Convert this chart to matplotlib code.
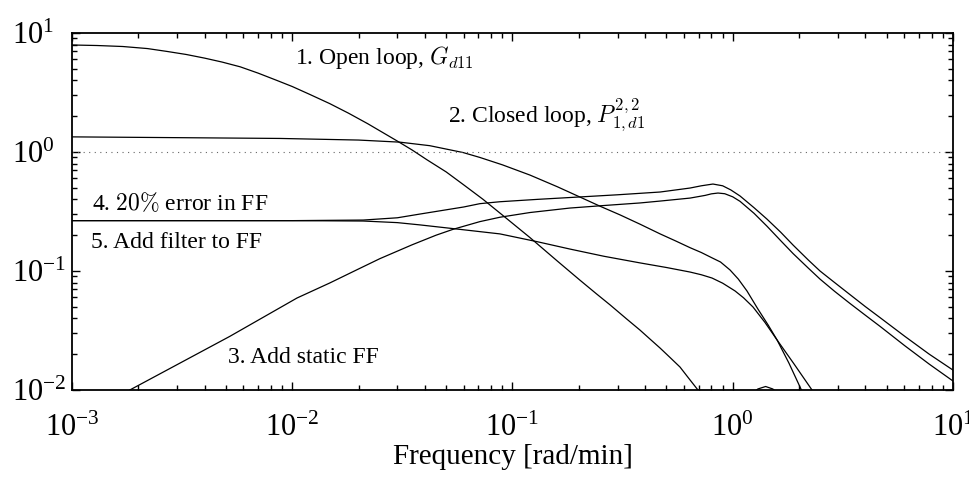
import matplotlib
matplotlib.use("Agg")
import matplotlib.pyplot as plt
from matplotlib.ticker import LogLocator, NullFormatter

plt.rcParams['font.family'] = ['Liberation Serif', 'DejaVu Serif']
plt.rcParams['mathtext.fontset'] = 'cm'

# 1. Open loop, Gd11
w1 = [0.001, 0.0013, 0.0017, 0.0022, 0.0027, 0.0033, 0.004, 0.0048, 0.0058, 0.007,
      0.0085, 0.01, 0.012, 0.0148, 0.018, 0.022, 0.0299, 0.035, 0.0409, 0.05,
      0.06, 0.0735, 0.09, 0.12, 0.16, 0.202, 0.24, 0.277, 0.33, 0.379,
      0.42, 0.468, 0.52, 0.576, 0.63, 0.695, 0.75, 0.85, 1.0, 1.2,
      1.3, 1.41, 1.52, 1.65, 2.0]
m1 = [7.93, 7.85, 7.7, 7.4, 7.0, 6.6, 6.15, 5.7, 5.2, 4.6,
      4.0, 3.55, 3.05, 2.55, 2.12, 1.73, 1.24, 1.04, 0.86, 0.68,
      0.53, 0.40, 0.295, 0.191, 0.121, 0.084, 0.0645, 0.052, 0.0395, 0.0319,
      0.0269, 0.0225, 0.0187, 0.0156, 0.0126, 0.0100, 0.0078, 0.004, 0.005, 0.009,
      0.0102, 0.0107, 0.0102, 0.009, 0.005]

# 2. Closed loop, P^{2,2}_{1,d1}
w2 = [0.001, 0.003, 0.0088, 0.02, 0.0308, 0.0421, 0.0596, 0.0711, 0.09, 0.12,
      0.16, 0.202, 0.25, 0.308, 0.38, 0.468, 0.55, 0.64, 0.72, 0.805,
      0.88, 0.972, 1.06, 1.16, 1.3, 1.45, 1.59, 1.8, 2.04, 2.24]
m2 = [1.34, 1.32, 1.30, 1.26, 1.21, 1.13, 0.99, 0.90, 0.78, 0.64,
      0.51, 0.419, 0.35, 0.296, 0.247, 0.205, 0.179, 0.157, 0.143, 0.129,
      0.119, 0.102, 0.0855, 0.068, 0.048, 0.035, 0.0263, 0.0168, 0.0102, 0.0072]

# 3. Add static FF
w3 = [0.00183, 0.0052, 0.01051, 0.0148, 0.02, 0.025, 0.035, 0.045, 0.0537, 0.0711,
      0.0877, 0.12, 0.182, 0.26, 0.379, 0.468, 0.64, 0.75, 0.80, 0.857,
      0.92, 1.0, 1.079, 1.25, 1.43, 1.65, 1.88, 2.2, 2.49, 2.9,
      3.4, 4.0, 4.67, 6.05, 7.8, 10.0]
m3 = [0.0100, 0.0282, 0.0593, 0.0793, 0.104, 0.127, 0.166, 0.200, 0.224, 0.260,
      0.283, 0.310, 0.338, 0.355, 0.373, 0.387, 0.410, 0.432, 0.445, 0.452,
      0.446, 0.420, 0.385, 0.305, 0.238, 0.180, 0.140, 0.106, 0.0855, 0.0675,
      0.0535, 0.0425, 0.0342, 0.0235, 0.0165, 0.0119]

# 4. 20% error in FF
w4 = [0.001, 0.01, 0.021, 0.03, 0.038, 0.06, 0.0711, 0.0877, 0.13, 0.202,
      0.3, 0.468, 0.64, 0.72, 0.813, 0.9, 0.98, 1.079, 1.25, 1.43,
      1.65, 1.88, 2.2, 2.49, 2.9, 3.4, 4.0, 4.67, 6.05, 7.8,
      10.0]
m4 = [0.265, 0.265, 0.268, 0.28, 0.301, 0.345, 0.368, 0.382, 0.40, 0.419,
      0.437, 0.461, 0.498, 0.52, 0.538, 0.52, 0.48, 0.427, 0.34, 0.273,
      0.212, 0.165, 0.124, 0.100, 0.080, 0.0635, 0.0502, 0.0405, 0.0282, 0.0200,
      0.0147]

# 5. Add filter to FF
w5 = [0.001, 0.01, 0.021, 0.03, 0.038, 0.06, 0.0877, 0.13, 0.182, 0.26,
      0.379, 0.5, 0.64, 0.72, 0.805, 0.9, 1.024, 1.12, 1.236, 1.4,
      1.59, 1.9, 2.29, 2.49]
m5 = [0.265, 0.265, 0.263, 0.255, 0.244, 0.222, 0.205, 0.176, 0.153, 0.133,
      0.117, 0.107, 0.098, 0.093, 0.0873, 0.079, 0.068, 0.0595, 0.0498, 0.037,
      0.0263, 0.0165, 0.0100, 0.0080]

ytick_vals = [1e-2, 1e-1, 1e0, 1e1]
ytick_labels = [r'$\mathdefault{10^{-2}}$', r'$\mathdefault{10^{-1}}$',
                r'$\mathdefault{10^{0}}$', r'$\mathdefault{10^{1}}$']

xlim = (1e-3, 1e1)
ylim = (1e-2, 1e1)

fig = plt.figure(figsize=(9.7, 4.78), dpi=100)
ax = fig.add_axes([72/970, 1 - 390/478, 881/970, 357/478])

for w, m in [(w1, m1), (w2, m2), (w3, m3), (w4, m4), (w5, m5)]:
    ax.loglog(w, m, color='black', lw=0.9)

ax.axhline(1.0, color='#666666', lw=0.8, ls=(0, (1, 4)))

ax.set_xlim(*xlim)
ax.set_ylim(*ylim)

ax.xaxis.set_major_locator(LogLocator(base=10, numticks=10))
ax.xaxis.set_minor_locator(LogLocator(base=10, subs=range(2, 10), numticks=100))
ax.yaxis.set_minor_locator(LogLocator(base=10, subs=range(2, 10), numticks=100))
ax.xaxis.set_minor_formatter(NullFormatter())
ax.yaxis.set_minor_formatter(NullFormatter())
ax.set_yticks(ytick_vals)
ax.set_yticklabels(ytick_labels, ha='left')
ax.set_ylim(*ylim)

ax.tick_params(which='both', direction='in', top=True, right=True, width=1.0)
ax.tick_params(which='major', length=6, labelsize=22)
ax.tick_params(which='minor', length=3.5)
ax.tick_params(axis='x', which='major', pad=17)
ax.tick_params(axis='y', which='major', pad=43)
for s in ax.spines.values():
    s.set_linewidth(1.3)

ax.set_xlabel('Frequency [rad/min]', fontsize=21, labelpad=1)

fs = 17
def px(x, y):
    return ((x - 72) / 881, (390 - y) / 357)

ax.text(*px(295, 64.5), r'1. Open loop, $G_{d11}$', transform=ax.transAxes, fontsize=fs, va='baseline')
ax.text(*px(448, 123), r'2. Closed loop, $P^{2,2}_{1,d1}$', transform=ax.transAxes, fontsize=fs, va='baseline')
ax.text(*px(92, 210), r'4. $20\%$ error in FF', transform=ax.transAxes, fontsize=fs, va='baseline')
ax.text(*px(91, 248), r'5. Add filter to FF', transform=ax.transAxes, fontsize=fs, va='baseline')
ax.text(*px(228, 363), r'3. Add static FF', transform=ax.transAxes, fontsize=fs, va='baseline')

fig.savefig('out.png', dpi=100)
